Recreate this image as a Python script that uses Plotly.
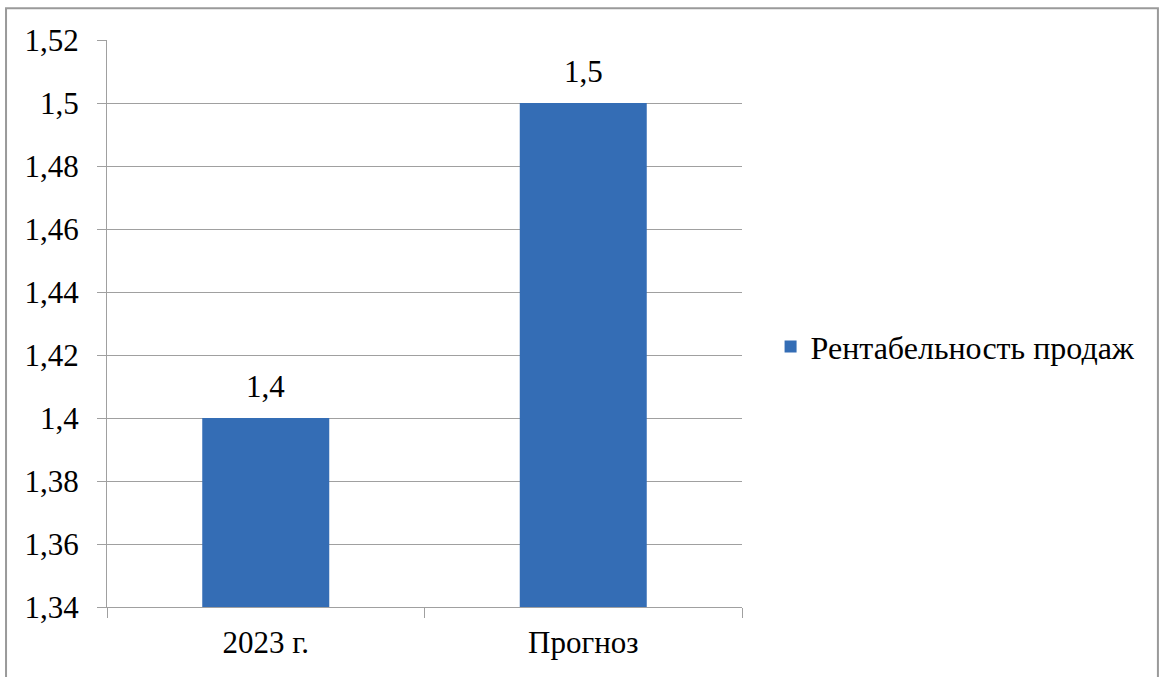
import plotly.graph_objects as go

categories = ["2023 г.", "Прогноз"]
values = [1.4, 1.5]
series_name = "Рентабельность продаж"
y_ticks = [1.34, 1.36, 1.38, 1.40, 1.42, 1.44, 1.46, 1.48, 1.50, 1.52]


def fmt(v):
    s = ("%.2f" % v).rstrip("0").rstrip(".")
    return s.replace(".", ",")


FONT = "Times New Roman, Liberation Serif, serif"
FS = 31

fig = go.Figure()
fig.add_trace(go.Bar(
    x=categories, y=values, name=series_name,
    width=0.4,
    marker=dict(color="#346db5", line=dict(width=0)),
    showlegend=True,
))
for c, v in zip(categories, values):
    fig.add_annotation(x=c, y=v, text=fmt(v), showarrow=False,
                       yanchor="bottom", yshift=12,
                       font=dict(family=FONT, size=FS, color="#000000"))

grid = "#a0a0a0"
fig.update_layout(
    width=1160, height=677,
    margin=dict(l=107, r=418, t=40, b=70),
    paper_bgcolor="white", plot_bgcolor="white",
    font=dict(family=FONT, size=FS, color="#000000"),
    showlegend=True,
    legend=dict(x=1.045, y=0.459, xanchor="left", yanchor="middle",
                itemwidth=30,
                font=dict(family=FONT, size=32, color="#000000"),
                bgcolor="rgba(0,0,0,0)"),
    bargap=0.6,
)
fig.update_yaxes(
    range=[1.34, 1.52], tickvals=y_ticks, ticktext=[fmt(v) for v in y_ticks],
    showgrid=True, gridcolor=grid, gridwidth=1.3,
    showline=True, linecolor=grid, linewidth=1.3,
    ticks="outside", ticklen=9, tickcolor=grid, tickwidth=1.3,
    ticklabelstandoff=12,
    zeroline=False, fixedrange=True,
    tickfont=dict(family=FONT, size=FS, color="#000000"),
)
fig.update_xaxes(
    showline=True, linecolor=grid, linewidth=1.3,
    ticks="outside", tickson="boundaries", ticklen=10, tickcolor=grid, tickwidth=1.3,
    ticklabelstandoff=8,
    showgrid=False, range=[-0.5, 1.5], fixedrange=True,
    tickfont=dict(family=FONT, size=FS, color="#000000"),
)
# outer chart border
fig.add_shape(type="rect", xref="paper", yref="paper",
              x0=-0.159, x1=1.655, y0=-0.14, y1=1.056,
              line=dict(color="#9a9a9a", width=2), layer="below")

fig.write_html("out.html", config={"displayModeBar": False},
               post_script="document.body.style.margin='0';")
